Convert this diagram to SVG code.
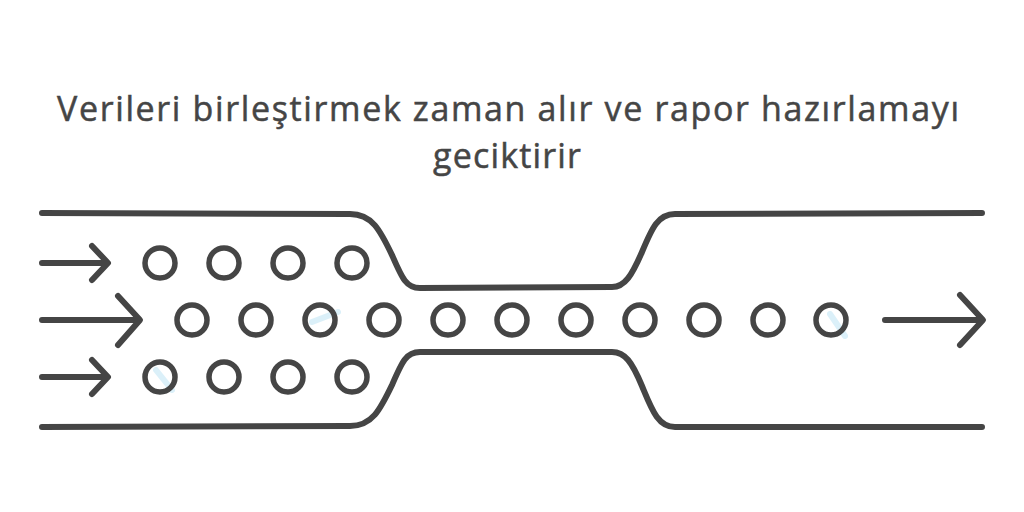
<svg xmlns="http://www.w3.org/2000/svg" width="1024" height="512" viewBox="0 0 1024 512">
<style>
.ln{fill:none;stroke:#454545;stroke-width:6;stroke-linecap:round;stroke-linejoin:round}
.dot{fill:none;stroke:#454545;stroke-width:5.5}
.t{font-family:"Open Sans","DejaVu Sans",sans-serif;font-size:34px;fill:#454545;stroke:#454545;stroke-width:0.5;text-anchor:middle}
.smudge{stroke:#cdebf7;stroke-width:6;stroke-linecap:round;opacity:0.7}
</style>
<rect width="1024" height="512" fill="#fff"/>
<g id="title">
<text class="t" x="508" y="121" textLength="902" lengthAdjust="spacing">Verileri birleştirmek zaman alır ve rapor hazırlamayı</text>
<text class="t" x="507" y="168" textLength="148" lengthAdjust="spacing">geciktirir</text>
</g>
<g id="pipe">
<path class="ln" d="M42,213 L350,214 C372,214 380,230 392,255 C402,278 406,288 420,288 L612,287 C625,287 632,275 642,252 C652,228 658,214 675,214 L982,213"/>
<path class="ln" d="M42,427 L350,426 C372,426 380,410 392,385 C402,362 406,352 420,352 L612,352 C625,352 632,362 642,386 C652,410 658,427 675,427 L982,427"/>
</g>
<g id="smudges">
<line class="smudge" x1="312" y1="322" x2="338" y2="312"/>
<line class="smudge" x1="156" y1="370" x2="172" y2="390"/>
<line class="smudge" x1="830" y1="314" x2="845" y2="336"/>
</g>
<g id="dots">
<circle class="dot" cx="160" cy="263" r="15"/>
<circle class="dot" cx="224" cy="263" r="15"/>
<circle class="dot" cx="288" cy="263" r="15"/>
<circle class="dot" cx="352" cy="263" r="15"/>
<circle class="dot" cx="192" cy="320" r="15"/>
<circle class="dot" cx="256" cy="320" r="15"/>
<circle class="dot" cx="320" cy="320" r="15"/>
<circle class="dot" cx="384" cy="320" r="15"/>
<circle class="dot" cx="448" cy="320" r="15"/>
<circle class="dot" cx="512" cy="320" r="15"/>
<circle class="dot" cx="576" cy="320" r="15"/>
<circle class="dot" cx="640" cy="320" r="15"/>
<circle class="dot" cx="704" cy="320" r="15"/>
<circle class="dot" cx="768" cy="320" r="15"/>
<circle class="dot" cx="831" cy="320" r="15"/>
<circle class="dot" cx="160" cy="377" r="15"/>
<circle class="dot" cx="224" cy="377" r="15"/>
<circle class="dot" cx="288" cy="377" r="15"/>
<circle class="dot" cx="352" cy="377" r="15"/>
</g>
<g id="connectors">
<path class="ln" d="M42,263 L107,263 M92,246 L108,263 L92,280"/>
<path class="ln" d="M42,320 L139,320 M118,296 L140,320 L118,345"/>
<path class="ln" d="M42,377 L107,377 M92,360 L108,377 L92,394"/>
<path class="ln" d="M885,320 L982,320 M960,295 L983,320 L960,345"/>
</g>
</svg>
